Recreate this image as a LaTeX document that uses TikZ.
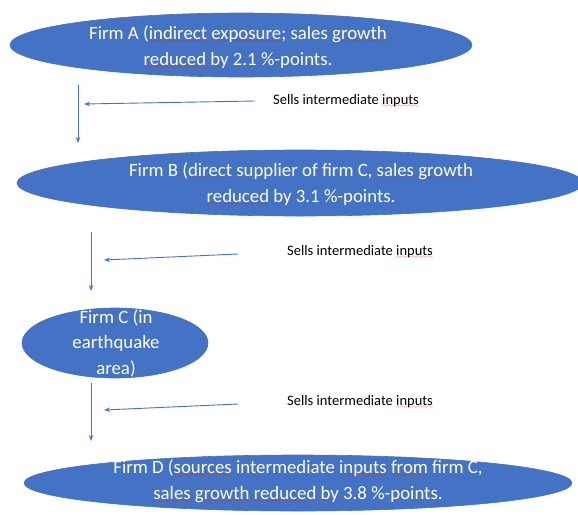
\documentclass[tikz,border=0pt]{standalone}
\usepackage{fontspec}
\setmainfont{Carlito}
\usetikzlibrary{shapes.geometric,arrows.meta}
\definecolor{accent}{HTML}{4472C4}
\definecolor{spellred}{HTML}{E02020}
% wavy red underline for flagged words
\font\squigglefont=lasy6
\newcommand\sq[1]{\setbox0=\hbox{#1}\rlap{\color{spellred}\lower3pt\hbox to\wd0{\xleaders\hbox{\squigglefont\char58}\hfil}}\box0\relax}
\tikzset{
  firm/.style={ellipse, fill=accent, draw=accent, line width=0.6pt, inner sep=0pt},
  firmtext/.style={text=white, align=center, inner sep=0pt,
    font=\fontsize{18.8}{25.5}\selectfont},
  flow/.style={accent, line width=0.9pt, -{Stealth[length=6pt,width=4.5pt]}},
  note/.style={anchor=west, inner sep=0pt, font=\fontsize{14.5}{17}\selectfont}
}
\begin{document}
\begin{tikzpicture}[x=1pt,y=-1pt]
\useasboundingbox (0,0) rectangle (578,514);

% firms
\node[firm, minimum width=462pt, minimum height=64pt] (A) at (241,45) {};
\node[firmtext] (At) at (238,47) {Firm A (\sq{indirect} \sq{exposure}; sales \sq{growth}\\
  \sq{reduced} \sq{by} 2.1 \%-points.};

\node[firm, minimum width=566pt, minimum height=66pt] (B) at (300,183) {};
\node[firmtext] (Bt) at (301,184) {Firm B (\sq{direct} supplier of firm C, \sq{sales} \sq{growth}\\
  \sq{reduced} \sq{by} 3.1 \%-points.};

\node[firm, minimum width=186pt, minimum height=70pt] (C) at (115,343) {};
\node[firmtext] (Ct) at (116,343) {Firm C (in\\earthquake\\area)};

\node[firm, minimum width=548pt, minimum height=56pt] (D) at (298,483) {};
\node[firmtext] (Dt) at (298,481) {Firm D (\sq{sources} intermediate \sq{inputs} \sq{from} firm C,\\
  \sq{sales} \sq{growth} \sq{reduced} \sq{by} 3.8 \%-points.};

% labels
\node[note] (l1) at (273,101) {Sells intermediate \sq{inputs}};
\node[note] (l2) at (287,252) {Sells intermediate \sq{inputs}};
\node[note] (l3) at (287,402) {Sells intermediate \sq{inputs}};

% arrow end points
\coordinate (v1s) at (78,85);  \coordinate (v1e) at (78,143);
\coordinate (v2s) at (91,232); \coordinate (v2e) at (91,291);
\coordinate (v3s) at (91,383); \coordinate (v3e) at (91,441);
\coordinate (h1s) at (255,101); \coordinate (h1e) at (84,104);
\coordinate (h2s) at (238,254); \coordinate (h2e) at (104,260);
\coordinate (h3s) at (238,404); \coordinate (h3e) at (104,410);

\draw[flow] (v1s) -- (v1e);
\draw[flow] (v2s) -- (v2e);
\draw[flow] (v3s) -- (v3e);
\draw[flow] (h1s) -- (h1e);
\draw[flow] (h2s) -- (h2e);
\draw[flow] (h3s) -- (h3e);
\end{tikzpicture}
\end{document}
